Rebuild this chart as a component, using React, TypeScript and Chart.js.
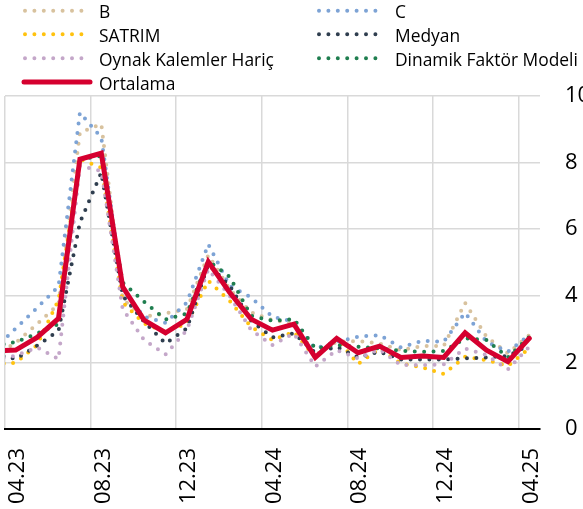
import React, { useEffect, useRef } from 'react';
import { Chart, registerables } from 'chart.js';

Chart.register(...registerables);

// Monthly categories (03.23 lies just left of the visible range and is clipped)
const months = [
  '03.23', '04.23', '05.23', '06.23', '07.23', '08.23', '09.23', '10.23', '11.23', '12.23',
  '01.24', '02.24', '03.24', '04.24', '05.24', '06.24', '07.24', '08.24', '09.24', '10.24',
  '11.24', '12.24', '01.25', '02.25', '03.25', '04.25',
];

const yMin = 0;
const yMax = 10;
const yStep = 2;
const labelEvery = 4;

const seriesB = [2.2, 2.59, 3.15, 3.75, 8.9, 9.16, 3.9, 3.37, 3.47, 3.6, 5.22, 4.2, 3.5, 3.27, 3.17, 2.22, 2.62, 2.64, 2.57, 2.37, 2.49, 2.49, 3.79, 2.77, 2.27, 2.82];
const seriesC = [2.4, 3.02, 3.64, 4.28, 9.5, 8.75, 4.17, 3.37, 3.19, 3.8, 5.55, 4.3, 3.95, 3.37, 3.22, 2.42, 2.62, 2.77, 2.82, 2.45, 2.65, 2.62, 3.49, 2.62, 2.32, 2.82];
const seriesSatrim = [1.95, 1.99, 2.52, 3.87, 8.1, 7.85, 3.8, 3.17, 2.92, 3.17, 4.45, 3.85, 3.07, 2.67, 2.92, 2.15, 2.72, 1.95, 2.42, 1.97, 1.85, 1.65, 2.17, 2.07, 1.89, 2.42];
const seriesMedyan = [2.25, 2.1, 2.5, 2.95, 6.2, 7.7, 4.0, 3.22, 2.57, 3.02, 4.95, 4.3, 3.25, 2.75, 2.87, 2.29, 2.47, 2.15, 2.32, 2.09, 2.09, 2.09, 2.12, 2.15, 2.19, 2.52];
const seriesOynak = [2.1, 2.2, 2.45, 2.1, 7.9, 7.75, 3.6, 2.67, 2.24, 2.97, 4.8, 4.0, 2.97, 2.52, 2.87, 1.87, 2.37, 2.12, 2.39, 1.92, 1.92, 1.94, 2.42, 2.22, 1.79, 2.47];
const seriesDinamik = [2.5, 2.61, 2.87, 3.15, 8.1, 8.2, 4.4, 3.82, 3.29, 3.47, 5.05, 4.57, 3.4, 3.25, 3.3, 2.42, 2.52, 2.47, 2.42, 2.35, 2.32, 2.34, 2.72, 2.67, 2.15, 2.77];
const seriesOrtalama = [2.35, 2.37, 2.75, 3.32, 8.1, 8.28, 4.27, 3.27, 2.89, 3.29, 5.02, 4.1, 3.3, 2.97, 3.15, 2.15, 2.72, 2.29, 2.49, 2.15, 2.19, 2.15, 2.89, 2.37, 2.02, 2.72];

const names = ['B', 'C', 'SATRIM', 'Medyan', 'Oynak Kalemler Hariç', 'Dinamik Faktör Modeli', 'Ortalama'];
const colors = ['#D8C29E', '#7DA3D5', '#FFC20E', '#2F3E4F', '#C4A7C9', '#1F7E4F', '#D5002F'];
const values = [seriesB, seriesC, seriesSatrim, seriesMedyan, seriesOynak, seriesDinamik, seriesOrtalama];

const FONT = '"Open Sans", "Noto Sans", sans-serif';

const legendPlugin = {
  id: 'gridLegend',
  afterDraw(chart: any) {
    const ctx = chart.ctx;
    const colX = [25, 319];
    const textX = [99, 395];
    const lineY = [10.7, 34.3, 58.2, 82];
    const baseY = [17.6, 41.9, 66.1, 90.4];
    names.forEach((name, i) => {
      const col = i === 6 ? 0 : i % 2;
      const row = i === 6 ? 3 : Math.floor(i / 2);
      ctx.save();
      ctx.strokeStyle = colors[i];
      ctx.beginPath();
      if (i === 6) {
        ctx.lineWidth = 5;
        ctx.lineCap = 'round';
        ctx.moveTo(24, lineY[row]);
        ctx.lineTo(90, lineY[row]);
      } else {
        ctx.lineWidth = 4;
        ctx.lineCap = 'round';
        ctx.setLineDash([0, 9.4]);
        ctx.moveTo(colX[col], lineY[row]);
        ctx.lineTo(colX[col] + 56.6, lineY[row]);
      }
      ctx.stroke();
      ctx.restore();
      ctx.save();
      ctx.fillStyle = '#000';
      ctx.font = `17.4px ${FONT}`;
      ctx.textBaseline = 'alphabetic';
      ctx.textAlign = 'left';
      ctx.fillText(name, textX[col], baseY[row]);
      ctx.restore();
    });
  },
};

export default function App() {
  const ref = useRef<HTMLCanvasElement | null>(null);

  useEffect(() => {
    if (!ref.current) return;
    const datasets = values.map((data, i) => ({
      label: names[i],
      data,
      borderColor: colors[i],
      backgroundColor: colors[i],
      borderWidth: i === 6 ? 5 : 4,
      borderDash: i === 6 ? [] : [0, 9.4],
      borderCapStyle: 'round' as const,
      borderJoinStyle: 'miter' as const,
      pointRadius: 0,
      tension: 0,
      fill: false,
      order: i === 6 ? 0 : 7 - i,
    }));

    const chart = new Chart(ref.current, {
      type: 'line',
      data: { labels: months, datasets },
      plugins: [legendPlugin],
      options: {
        animation: false,
        responsive: true,
        maintainAspectRatio: false,
        layout: { padding: { top: 96, left: 5, right: 0, bottom: 0 } },
        plugins: { legend: { display: false }, tooltip: { enabled: false } },
        scales: {
          x: {
            type: 'category',
            min: months[1],
            offset: true,
            grid: {
              offset: true,
              drawTicks: false,
              lineWidth: 1.5,
              color: (c: any) => (c.index % labelEvery === 0 ? '#D9D9D9' : 'rgba(0,0,0,0)'),
            },
            border: { display: true, color: '#000', width: 2 },
            ticks: {
              autoSkip: false,
              minRotation: 90,
              maxRotation: 90,
              padding: 19,
              labelOffset: 2,
              color: '#000',
              font: { family: FONT, size: 22 },
              callback: function (this: any, value: any, index: number) {
                return index % labelEvery === 0 ? this.getLabelForValue(value) : '';
              },
            },
            afterFit: (s: any) => {
              s.height = 80;
              s.paddingLeft = 0;
              s.paddingRight = 0;
            },
          },
          y: {
            position: 'right',
            min: yMin,
            max: yMax,
            grid: { drawTicks: false, color: '#D9D9D9', lineWidth: 1.5 },
            border: { display: false },
            ticks: {
              stepSize: yStep,
              padding: 25,
              color: '#000',
              font: { family: FONT, size: 22 },
            },
            afterFit: (s: any) => {
              s.width = 43;
              s.paddingTop = 0;
              s.paddingBottom = 0;
            },
          },
        },
      },
    });
    return () => chart.destroy();
  }, []);

  return (
    <div style={{ position: 'fixed', left: 0, top: 0, width: 583, height: 509, background: '#fff' }}>
      <canvas ref={ref} />
    </div>
  );
}
